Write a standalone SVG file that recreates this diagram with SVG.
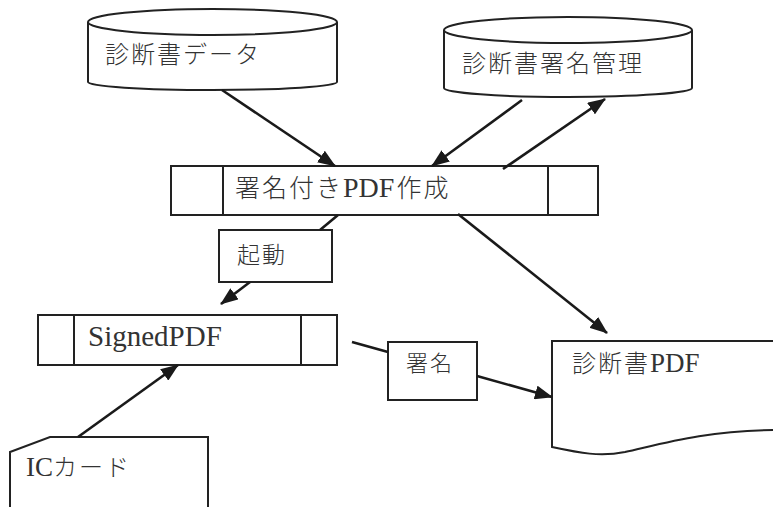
<svg xmlns="http://www.w3.org/2000/svg" width="773" height="507" viewBox="0 0 773 507">
<style>
.s{fill:#fff;stroke:#222;stroke-width:2}
.o{fill:none;stroke:#222;stroke-width:2}
.t{font-family:"Liberation Serif","Noto Sans CJK JP",serif;font-weight:300;fill:#333;letter-spacing:2px}
.l{font-weight:400;letter-spacing:0}
.c{stroke:#1a1a1a;stroke-width:2.6;fill:none}
.a{marker-end:url(#ah)}
</style>
<defs>
<marker id="ah" viewBox="0 0 18 14" refX="17" refY="7" markerWidth="18" markerHeight="14" markerUnits="userSpaceOnUse" orient="auto">
<path d="M0,0 L18,7 L0,14 z" fill="#1a1a1a"/>
</marker>
</defs>
<rect width="773" height="507" fill="#fff"/>
<g id="shindansho-data">
<path class="s" d="M88,22 V82 A124.5,8 0 0 0 337,82 V22"/>
<ellipse class="s" cx="212.5" cy="22" rx="124.5" ry="13"/>
<text class="t" x="105" y="63" font-size="24">診断書データ</text>
</g>
<g id="shomei-kanri">
<path class="s" d="M444,30 V88 A124,9 0 0 0 692,88 V30"/>
<ellipse class="s" cx="568" cy="30" rx="124" ry="13"/>
<text class="t" x="462" y="72" font-size="24">診断書署名管理</text>
</g>
<g id="pdf-sakusei">
<rect class="s" x="171" y="166" width="427" height="49"/>
<line class="o" x1="223" y1="166" x2="223" y2="215"/>
<line class="o" x1="548" y1="166" x2="548" y2="215"/>
<text class="t" x="235" y="197" font-size="25">署名付き<tspan class="l" font-size="28">PDF</tspan><tspan dx="2">作成</tspan></text>
</g>
<g id="kidou">
<rect class="s" x="219" y="230" width="113" height="52"/>
<text class="t" x="237" y="263" font-size="23">起動</text>
</g>
<g id="signedpdf">
<rect class="s" x="38" y="315" width="299" height="50"/>
<line class="o" x1="74" y1="315" x2="74" y2="365"/>
<line class="o" x1="301" y1="315" x2="301" y2="365"/>
<text class="t l" x="88" y="346" font-size="29">SignedPDF</text>
</g>
<g id="shomei">
<rect class="s" x="388" y="342" width="89" height="58"/>
<text class="t" x="406" y="371" font-size="22">署名</text>
</g>
<g id="shindansho-pdf">
<path class="s" d="M773,341 H552 V447 C580,453 600,457 625,452 C665,443 705,431 773,430"/>
<text class="t" x="572" y="372" font-size="24">診断書<tspan class="l" font-size="27">PDF</tspan></text>
</g>
<g id="ic-card">
<path class="s" d="M10,507 V452 L50,437 H208 V507"/>
<text class="t" x="26" y="476" font-size="24"><tspan class="l" font-size="27">IC</tspan>カード</text>
</g>
<g id="connectors">
<line class="c a" x1="222" y1="90" x2="335" y2="166"/>
<line class="c a" x1="522" y1="100" x2="432" y2="166"/>
<line class="c a" x1="503" y1="169" x2="605" y2="99"/>
<line class="c" x1="338" y1="215" x2="320" y2="230"/>
<line class="c a" x1="250" y1="282" x2="221" y2="304"/>
<line class="c a" x1="458" y1="214" x2="607" y2="333"/>
<line class="c a" x1="78" y1="437" x2="178" y2="365"/>
<line class="c" x1="352" y1="342" x2="388" y2="352"/>
<line class="c a" x1="477" y1="376" x2="552" y2="397"/>
</g>
</svg>
